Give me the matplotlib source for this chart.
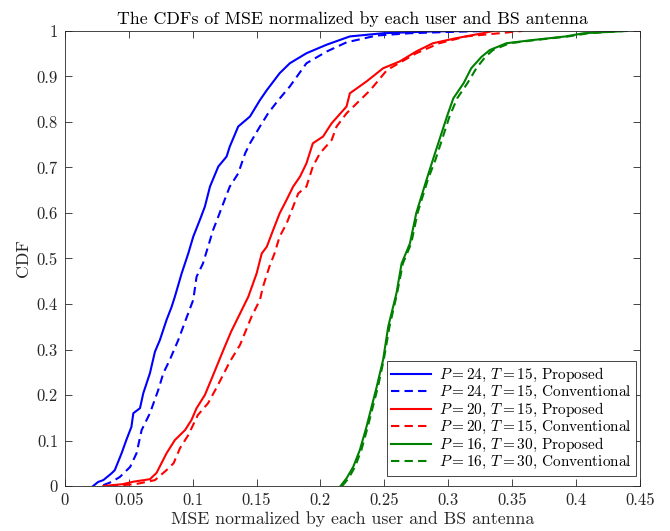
import matplotlib
matplotlib.use("Agg")
import matplotlib.pyplot as plt

# values: MSE (x) vs CDF (y)
blue_prop_x = [0.022, 0.026, 0.030, 0.0365, 0.039, 0.0443, 0.048, 0.052, 0.0535, 0.0587, 0.0613, 0.0665,
               0.0704, 0.0743, 0.0795, 0.0835, 0.086, 0.0913, 0.0965, 0.1004, 0.1056, 0.1095, 0.1135, 0.120,
               0.1265, 0.129, 0.1356, 0.1448, 0.1526, 0.158, 0.168, 0.176, 0.189, 0.205, 0.223, 0.249,
               0.288, 0.320]
blue_prop_y = [0, 0.009, 0.013, 0.028, 0.035, 0.072, 0.101, 0.13, 0.16, 0.171, 0.204, 0.248,
               0.295, 0.321, 0.365, 0.394, 0.416, 0.467, 0.511, 0.548, 0.585, 0.614, 0.658, 0.702,
               0.724, 0.746, 0.79, 0.812, 0.848, 0.870, 0.907, 0.929, 0.951, 0.970, 0.988, 0.995,
               0.999, 1.0]

blue_conv_x = [0.030, 0.0365, 0.043, 0.051, 0.056, 0.060, 0.0665, 0.073, 0.077, 0.082, 0.0887, 0.0965,
               0.1004, 0.103, 0.108, 0.112, 0.116, 0.120, 0.125, 0.129, 0.1356, 0.141, 0.1448, 0.1526,
               0.159, 0.167, 0.176, 0.189, 0.205, 0.2204, 0.244, 0.270, 0.314, 0.335]
blue_conv_y = [0.002, 0.009, 0.02, 0.042, 0.072, 0.123, 0.16, 0.211, 0.248, 0.277, 0.321, 0.38,
               0.409, 0.46, 0.489, 0.526, 0.563, 0.592, 0.629, 0.658, 0.687, 0.731, 0.753, 0.79,
               0.819, 0.848, 0.878, 0.929, 0.955, 0.975, 0.99, 0.995, 0.999, 1.0]

red_prop_x = [0.030, 0.045, 0.0535, 0.0665, 0.0717, 0.0795, 0.086, 0.094, 0.099, 0.103, 0.1095, 0.116,
              0.124, 0.130, 0.1435, 0.150, 0.154, 0.158, 0.163, 0.168, 0.1735, 0.1786, 0.184, 0.189,
              0.194, 0.202, 0.2087, 0.2204, 0.223, 0.236, 0.249, 0.262, 0.275, 0.288, 0.306, 0.327, 0.335]
red_prop_y = [0, 0.004, 0.0095, 0.015, 0.029, 0.072, 0.101, 0.123, 0.145, 0.171, 0.2, 0.244,
              0.299, 0.339, 0.416, 0.467, 0.511, 0.526, 0.563, 0.599, 0.629, 0.658, 0.68, 0.709,
              0.753, 0.768, 0.797, 0.834, 0.863, 0.889, 0.918, 0.933, 0.955, 0.973, 0.984, 0.995, 1.0]

red_conv_x = [0.035, 0.055, 0.0704, 0.0795, 0.085, 0.090, 0.0965, 0.104, 0.112, 0.119, 0.129, 0.137,
              0.146, 0.1526, 0.155, 0.160, 0.164, 0.168, 0.1735, 0.1786, 0.1826, 0.189, 0.194, 0.1995,
              0.2087, 0.2126, 0.2204, 0.239, 0.252, 0.275, 0.293, 0.314, 0.340, 0.358]
red_conv_y = [0, 0.004, 0.013, 0.035, 0.05, 0.083, 0.112, 0.156, 0.182, 0.218, 0.273, 0.31,
              0.372, 0.409, 0.438, 0.482, 0.511, 0.548, 0.577, 0.614, 0.643, 0.658, 0.702, 0.731,
              0.76, 0.79, 0.819, 0.87, 0.914, 0.951, 0.973, 0.988, 0.995, 1.0]

green_prop_x = [0.2157, 0.2204, 0.2256, 0.2308, 0.236, 0.240, 0.244, 0.249, 0.253, 0.2595, 0.2635, 0.270,
                0.275, 0.283, 0.288, 0.299, 0.304, 0.312, 0.318, 0.326, 0.3325, 0.3455, 0.366, 0.392,
                0.406, 0.440]
green_prop_y = [0, 0.017, 0.042, 0.079, 0.13, 0.174, 0.218, 0.277, 0.35, 0.424, 0.489, 0.533,
                0.6, 0.673, 0.717, 0.812, 0.852, 0.885, 0.918, 0.943, 0.958, 0.973, 0.98, 0.988,
                0.995, 1.0]

green_conv_x = [0.217, 0.222, 0.227, 0.232, 0.237, 0.241, 0.245, 0.2495, 0.254, 0.260, 0.2645, 0.271,
                0.276, 0.284, 0.290, 0.301, 0.307, 0.315, 0.322, 0.329, 0.335, 0.348, 0.368, 0.394,
                0.410, 0.438]
green_conv_y = [0, 0.017, 0.042, 0.079, 0.13, 0.174, 0.218, 0.277, 0.35, 0.424, 0.489, 0.533,
                0.6, 0.673, 0.717, 0.812, 0.852, 0.885, 0.918, 0.943, 0.958, 0.973, 0.98, 0.988,
                0.995, 1.0]

labels = [r"$P=24$, $T=15$, Proposed", r"$P=24$, $T=15$, Conventional",
          r"$P=20$, $T=15$, Proposed", r"$P=20$, $T=15$, Conventional",
          r"$P=16$, $T=30$, Proposed", r"$P=16$, $T=30$, Conventional"]

plt.rcParams["font.family"] = "cmr10"
plt.rcParams["mathtext.fontset"] = "cm"
plt.rcParams["axes.formatter.use_mathtext"] = True

fig = plt.figure(figsize=(6.7, 5.31), dpi=100)
ax = fig.add_axes([0.097, 0.0847, 0.858, 0.857])

series = [
    (blue_prop_x, blue_prop_y, "blue", "-"),
    (blue_conv_x, blue_conv_y, "blue", "--"),
    (red_prop_x, red_prop_y, "red", "-"),
    (red_conv_x, red_conv_y, "red", "--"),
    (green_prop_x, green_prop_y, (0, 0.5, 0), "-"),
    (green_conv_x, green_conv_y, (0, 0.5, 0), "--"),
]
for (xs, ys, col, ls), lab in zip(series, labels):
    line, = ax.plot(xs, ys, color=col, ls=ls, lw=1.5, label=lab)
    if ls == "--":
        line.set_dashes((4, 2.5))

ax.set_xlim(0, 0.45)
ax.set_ylim(0, 1)
ax.set_xticks([0, 0.05, 0.1, 0.15, 0.2, 0.25, 0.3, 0.35, 0.4, 0.45])
ax.set_xticklabels(["0", "0.05", "0.1", "0.15", "0.2", "0.25", "0.3", "0.35", "0.4", "0.45"])
ax.set_yticks([0, 0.1, 0.2, 0.3, 0.4, 0.5, 0.6, 0.7, 0.8, 0.9, 1])
ax.set_yticklabels(["0", "0.1", "0.2", "0.3", "0.4", "0.5", "0.6", "0.7", "0.8", "0.9", "1"])

gray = (0.15, 0.15, 0.15)
ax.tick_params(direction="in", top=True, right=True, length=5, width=0.6,
               labelsize=12, colors=gray, pad=5)
for sp in ax.spines.values():
    sp.set_color(gray)
    sp.set_linewidth(0.6)

ax.set_title("The CDFs of MSE normalized by each user and BS antenna", fontsize=12.8, pad=5)
ax.set_xlabel("MSE normalized by each user and BS antenna", fontsize=12.8, color=gray, labelpad=2)
ax.set_ylabel("CDF", fontsize=12.8, color=gray, labelpad=4)

leg = ax.legend(loc="lower right", bbox_to_anchor=(0.993, 0.022), fontsize=11,
                fancybox=False, framealpha=1, edgecolor=gray, handlelength=2.6,
                borderpad=0.3, labelspacing=0.0, handletextpad=0.5, borderaxespad=0)
leg.get_frame().set_linewidth(0.6)

fig.savefig("out.png", dpi=100)
